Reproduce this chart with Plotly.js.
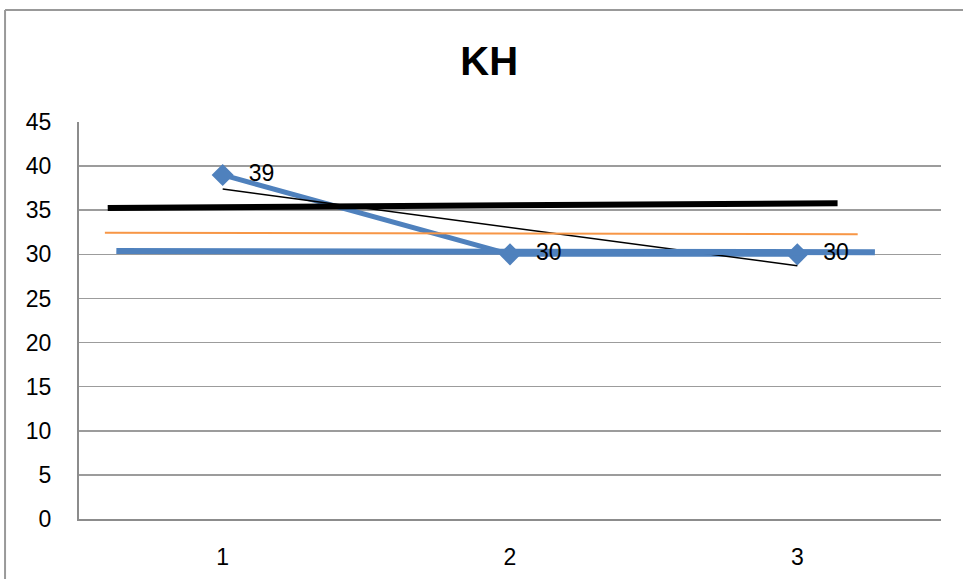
<!DOCTYPE html>
<html>
<head>
<meta charset="utf-8">
<script src="https://cdn.plot.ly/plotly-3.0.1.min.js"></script>
<style>
html,body{margin:0;padding:0;background:#fff;}
#chart{width:963px;height:579px;}
</style>
</head>
<body>
<div id="chart"></div>
<script>
// Main series
var categories = [1, 2, 3];
var khValues = [39, 30, 30];
var khLabels = ["39", "30", "30"];

// Linear trendline of the series
var trendX = [1, 3];
var trendY = [37.4, 28.7];

// Drawn reference lines
var blackLineX = [0.6, 3.14];
var blackLineY = [35.25, 35.8];
var orangeLineX = [0.59, 3.21];
var orangeLineY = [32.45, 32.27];
var blueLineX = [0.63, 3.27];
var blueLineY = [30.38, 30.23];

var yTicks = [0, 5, 10, 15, 20, 25, 30, 35, 40, 45];

var FONT = "Liberation Sans, Arial, sans-serif";
var BLUE = "#4F81BD";

var traces = [
  {x: categories, y: khValues, mode: "lines+markers", type: "scatter",
   line: {color: BLUE, width: 5},
   marker: {symbol: "diamond", size: 17, color: BLUE},
   hoverinfo: "skip", showlegend: false},
  {x: trendX, y: trendY, mode: "lines", type: "scatter",
   line: {color: "#000000", width: 1.5}, hoverinfo: "skip", showlegend: false},
  {x: orangeLineX, y: orangeLineY, mode: "lines", type: "scatter",
   line: {color: "#F79646", width: 2}, hoverinfo: "skip", showlegend: false},
  {x: blueLineX, y: blueLineY, mode: "lines", type: "scatter",
   line: {color: BLUE, width: 6}, hoverinfo: "skip", showlegend: false},
  {x: blackLineX, y: blackLineY, mode: "lines", type: "scatter",
   line: {color: "#000000", width: 6}, hoverinfo: "skip", showlegend: false},
  {x: categories, y: khValues, mode: "markers+text", type: "scatter",
   text: khLabels, textposition: "middle right",
   textfont: {family: FONT, size: 23, color: "#000000"},
   marker: {size: 40, opacity: 0},
   hoverinfo: "skip", showlegend: false}
];

var layout = {
  width: 963, height: 579,
  margin: {l: 79, r: 22, t: 122, b: 60},
  paper_bgcolor: "#ffffff", plot_bgcolor: "#ffffff",
  font: {family: FONT, size: 23, color: "#000000"},
  title: {text: "<b>KH</b>", font: {family: FONT, size: 40, color: "#000000"},
          x: 0.508, xanchor: "center", y: 0.894, yanchor: "middle"},
  xaxis: {range: [0.5, 3.5], tickvals: categories, ticktext: categories.map(String),
          showgrid: false, zeroline: false, showline: true, linecolor: "#8c8c8c", linewidth: 2,
          ticks: "outside", ticklen: 0, tickcolor: "rgba(0,0,0,0)", ticklabelstandoff: 16,
          tickfont: {family: FONT, size: 23, color: "#000000"}, fixedrange: true},
  yaxis: {range: [0, 45], tickvals: yTicks, ticktext: yTicks.map(String),
          showgrid: true, gridcolor: "#9c9c9c", gridwidth: 1.5,
          zeroline: false, showline: true, linecolor: "#8c8c8c", linewidth: 2,
          ticks: "outside", ticklen: 0, tickcolor: "rgba(0,0,0,0)", ticklabelstandoff: 21,
          tickfont: {family: FONT, size: 23, color: "#000000"}, fixedrange: true},
  shapes: [
    {type: "line", xref: "paper", yref: "paper", x0: -0.0858, x1: 1.1, y0: 1.282, y1: 1.282,
     line: {color: "#999999", width: 2}},
    {type: "line", xref: "paper", yref: "paper", x0: -0.0858, x1: -0.0858, y0: 1.282, y1: -0.25,
     line: {color: "#999999", width: 2}}
  ]
};

Plotly.newPlot("chart", traces, layout, {staticPlot: true, displayModeBar: false});
</script>
</body>
</html>
